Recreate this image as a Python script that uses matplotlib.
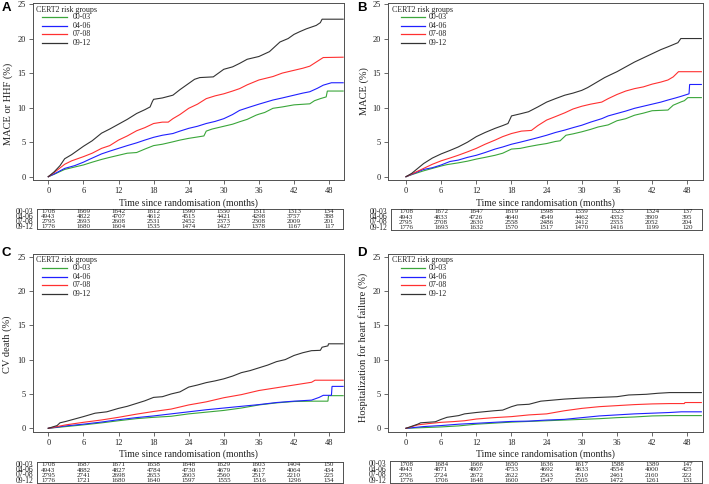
import matplotlib
matplotlib.use('Agg')
import matplotlib.pyplot as plt
from matplotlib.lines import Line2D
from matplotlib.transforms import blended_transform_factory

plt.rcParams['font.family'] = ['Liberation Serif', 'DejaVu Serif']

W, H = 709, 484

# ---------------- data ----------------
groups = ['00-03', '04-06', '07-08', '09-12']
colors = ['#3aa63a', '#2020ff', '#ff3030', '#333333']
month_ticks = [0, 6, 12, 18, 24, 30, 36, 42, 48]
y_ticks = [0, 5, 10, 15, 20, 25]
legend_title = 'CERT2 risk groups'
x_label = 'Time since randomisation (months)'

# Panel A: MACE or HHF
A_t_0003 = [0, 1, 2.8, 4.5, 6, 7.5, 9.1, 10.5, 12, 13.5, 15.1, 16.5, 18, 19.5, 21.3, 22.5, 24, 25.5, 26.6, 27.0, 28, 30, 31.5, 32.7, 34, 35.5, 36, 37, 38.4, 40, 42, 44.7, 45.5, 46.5, 47.5, 47.7, 50.4]
A_y_0003 = [0, 0.35, 1.05, 1.4, 1.7, 2.1, 2.5, 2.8, 3.1, 3.4, 3.5, 4.0, 4.5, 4.7, 5.05, 5.3, 5.55, 5.75, 5.9, 6.6, 6.9, 7.3, 7.6, 7.95, 8.3, 8.9, 9.05, 9.3, 9.9, 10.1, 10.4, 10.55, 11.0, 11.3, 11.55, 12.4, 12.4]
A_t_0406 = [0, 1, 2.8, 4.5, 6, 7, 9.1, 10.5, 12, 13.5, 15.1, 16.5, 18, 19.5, 21.3, 22.5, 24, 25.5, 27, 28.5, 30, 31.5, 32.7, 34.5, 36, 38.4, 40, 42, 43.5, 44.7, 46, 47, 48.4, 50.4]
A_y_0406 = [0, 0.4, 1.2, 1.6, 2.1, 2.5, 3.3, 3.7, 4.1, 4.5, 4.9, 5.3, 5.7, 6.0, 6.25, 6.6, 7.0, 7.3, 7.7, 8.0, 8.4, 9.0, 9.6, 10.1, 10.5, 11.1, 11.4, 11.8, 12.1, 12.3, 12.8, 13.25, 13.6, 13.6]
A_t_0708 = [0, 1, 2.8, 4, 6, 7.5, 9.1, 10.5, 12, 13.5, 15.1, 16.5, 18, 19.5, 20.5, 21.3, 22.5, 24, 25.5, 27, 28.5, 30, 31.5, 32.7, 34, 36, 38.4, 40, 42, 43.5, 44.7, 45.8, 47, 50.4]
A_y_0708 = [0, 0.6, 1.8, 2.3, 2.9, 3.4, 4.1, 4.5, 5.3, 5.9, 6.65, 7.1, 7.7, 7.9, 7.9, 8.4, 9.0, 9.9, 10.5, 11.3, 11.7, 12.0, 12.4, 12.75, 13.3, 14.0, 14.5, 15.0, 15.4, 15.7, 16.0, 16.6, 17.25, 17.3]
A_t_0912 = [0, 1, 2, 2.8, 4, 6, 7.5, 9.1, 10.5, 12, 13.5, 15.1, 16.5, 17.4, 17.8, 18, 19.5, 21.3, 22.5, 24, 25, 25.9, 28.2, 30, 31.5, 32.7, 34, 36, 37.8, 39.6, 41, 42, 43, 44.1, 45.8, 46.5, 46.8, 50.4]
A_y_0912 = [0, 0.7, 1.6, 2.6, 3.2, 4.4, 5.2, 6.3, 6.9, 7.6, 8.3, 9.15, 9.7, 10.1, 10.9, 11.2, 11.4, 11.8, 12.6, 13.5, 14.1, 14.35, 14.45, 15.55, 15.9, 16.4, 17.0, 17.4, 18.1, 19.5, 20.0, 20.6, 21.0, 21.4, 21.9, 22.3, 22.8, 22.8]

# Panel B: MACE
B_t_0003 = [0, 1, 3, 4.5, 6, 7, 8.9, 10.5, 12, 13.5, 15.2, 16.5, 18, 19.5, 20.9, 22.5, 24, 25.5, 26.3, 27.3, 28.5, 30, 31.5, 32.8, 34.5, 36, 37.5, 39, 40.5, 42, 44.7, 45.6, 47, 47.5, 48.1, 50.4]
B_y_0003 = [0, 0.3, 0.85, 1.2, 1.55, 1.75, 2.0, 2.25, 2.55, 2.8, 3.1, 3.4, 4.0, 4.1, 4.35, 4.6, 4.8, 5.1, 5.2, 6.0, 6.2, 6.5, 6.85, 7.2, 7.5, 8.1, 8.4, 8.9, 9.2, 9.55, 9.65, 10.35, 10.85, 11.0, 11.45, 11.45]
B_t_0406 = [0, 1, 3, 4.5, 6, 7.5, 8.9, 10.5, 12, 13.5, 15.2, 16.5, 18, 19.5, 20.9, 22.5, 24, 25.5, 27.1, 28.5, 30, 31.5, 33.4, 34.5, 36, 37.5, 39, 40.5, 42, 43.5, 44.7, 46, 47, 48.3, 48.4, 50.4]
B_y_0406 = [0, 0.35, 1.05, 1.3, 1.7, 2.2, 2.4, 2.8, 3.1, 3.5, 4.0, 4.3, 4.7, 5.0, 5.3, 5.65, 6.0, 6.4, 6.75, 7.1, 7.45, 7.9, 8.4, 8.8, 9.15, 9.5, 9.9, 10.2, 10.5, 10.8, 11.1, 11.4, 11.65, 12.0, 13.35, 13.35]
B_t_0708 = [0, 1, 3, 4.5, 6, 7.5, 8.9, 10.5, 12, 13.5, 15.2, 16.5, 18, 19.7, 21.4, 22.5, 24, 25.5, 27.1, 28.5, 30, 31.5, 33.4, 34.5, 36, 37.5, 39, 40.5, 42, 43.5, 44.7, 45.6, 46.5, 50.4]
B_y_0708 = [0, 0.4, 1.2, 1.8, 2.3, 2.7, 3.1, 3.6, 4.1, 4.7, 5.3, 5.8, 6.25, 6.6, 6.7, 7.4, 8.2, 8.7, 9.25, 9.8, 10.2, 10.5, 10.8, 11.3, 11.9, 12.4, 12.75, 13.0, 13.4, 13.7, 14.0, 14.45, 15.2, 15.2]
B_t_0912 = [0, 1, 2, 3, 4.5, 6, 7.5, 8.9, 10.5, 12, 13.5, 15.2, 16.5, 17.4, 17.9, 18, 19.5, 20.9, 22.5, 24, 25.5, 27.1, 28.5, 30, 31, 32.2, 33.9, 35, 36, 37.5, 39, 40.5, 42, 43.5, 44.7, 46.4, 46.9, 50.4]
B_y_0912 = [0, 0.5, 1.2, 1.9, 2.7, 3.3, 3.8, 4.3, 5.0, 5.8, 6.4, 7.0, 7.4, 7.7, 8.6, 8.8, 9.1, 9.4, 10.1, 10.8, 11.3, 11.8, 12.1, 12.5, 12.9, 13.5, 14.35, 14.8, 15.2, 15.9, 16.6, 17.2, 17.8, 18.4, 18.8, 19.4, 20.0, 20.0]

# Panel C: CV death
C_t_0003 = [0, 3, 6, 9, 12, 15, 18, 21, 24, 27, 30, 33, 36, 39, 42, 45, 47.8, 47.9, 50.4]
C_y_0003 = [0, 0.25, 0.5, 0.78, 1.1, 1.4, 1.6, 1.75, 2.1, 2.35, 2.6, 2.95, 3.4, 3.7, 3.9, 3.95, 3.95, 4.75, 4.75]
C_t_0406 = [0, 3, 6, 9, 12, 15, 18, 21, 24, 27, 30, 33, 36, 39, 42, 45, 46.3, 47, 48.4, 48.5, 50.4]
C_y_0406 = [0, 0.35, 0.6, 0.9, 1.25, 1.55, 1.8, 2.1, 2.4, 2.7, 2.95, 3.2, 3.45, 3.75, 3.95, 4.1, 4.5, 4.8, 4.8, 6.1, 6.1]
C_t_0708 = [0, 1.5, 3, 6, 9, 12, 15, 18, 21, 24, 27, 30, 33, 34.5, 36, 39, 42, 45, 45.6, 50.4]
C_y_0708 = [0, 0.25, 0.5, 0.87, 1.2, 1.6, 2.05, 2.45, 2.8, 3.4, 3.85, 4.45, 4.9, 5.2, 5.5, 5.9, 6.3, 6.7, 7.0, 7.0]
C_t_0912 = [0, 1.5, 2, 3, 4.5, 6, 8, 10, 12, 13.5, 15, 16.5, 18, 19.5, 21, 22.5, 24, 25.5, 27, 28.5, 30, 31.5, 33, 34.5, 36, 37.5, 39, 40.5, 42, 43.5, 45, 46.5, 46.8, 47.8, 47.9, 50.4]
C_y_0912 = [0, 0.4, 0.8, 1.0, 1.35, 1.7, 2.2, 2.4, 2.9, 3.2, 3.6, 4.0, 4.5, 4.6, 5.0, 5.3, 6.0, 6.3, 6.65, 6.9, 7.2, 7.6, 8.1, 8.4, 8.8, 9.2, 9.7, 10.0, 10.6, 11.0, 11.3, 11.35, 11.8, 12.0, 12.3, 12.3]

# Panel D: Hospitalization for heart failure
D_t_0003 = [0, 3, 6, 9, 12, 15, 18, 21, 24, 27, 30, 33, 36, 39, 42, 45, 50.4]
D_y_0003 = [0, 0.1, 0.2, 0.35, 0.6, 0.75, 0.9, 1.0, 1.1, 1.2, 1.3, 1.4, 1.55, 1.65, 1.8, 1.85, 1.85]
D_t_0406 = [0, 3, 6, 9, 12, 15, 18, 21, 24, 27, 30, 33, 36, 39, 42, 45, 47, 50.4]
D_y_0406 = [0, 0.25, 0.4, 0.6, 0.73, 0.87, 1.0, 1.05, 1.2, 1.3, 1.55, 1.8, 1.95, 2.1, 2.2, 2.3, 2.4, 2.4]
D_t_0708 = [0, 2, 4, 6, 8, 10, 12, 15, 18, 21, 24, 27, 30, 33, 36, 39, 42, 45, 47.5, 47.6, 50.4]
D_y_0708 = [0, 0.5, 0.7, 0.87, 0.97, 1.1, 1.35, 1.55, 1.7, 1.95, 2.1, 2.55, 2.9, 3.15, 3.3, 3.45, 3.55, 3.6, 3.6, 3.75, 3.75]
D_t_0912 = [0, 1, 2, 2.5, 5, 6, 7, 9, 10, 12, 15, 16.5, 18, 19, 21, 23, 25, 27, 30, 33, 36, 38, 41, 43, 45, 50.4]
D_y_0912 = [0, 0.3, 0.6, 0.8, 0.95, 1.3, 1.6, 1.85, 2.1, 2.3, 2.55, 2.65, 3.15, 3.4, 3.5, 3.95, 4.1, 4.25, 4.4, 4.5, 4.6, 4.85, 4.95, 5.1, 5.2, 5.2]

# Numbers at risk
A_risk_0003 = [1708, 1669, 1642, 1612, 1590, 1550, 1511, 1313, 134]
A_risk_0406 = [4943, 4822, 4707, 4612, 4515, 4421, 4298, 3757, 388]
A_risk_0708 = [2795, 2693, 2608, 2531, 2452, 2373, 2308, 2009, 201]
A_risk_0912 = [1776, 1680, 1604, 1535, 1474, 1427, 1378, 1167, 117]

B_risk_0003 = [1708, 1672, 1647, 1619, 1598, 1559, 1523, 1324, 137]
B_risk_0406 = [4943, 4833, 4726, 4640, 4549, 4462, 4352, 3809, 395]
B_risk_0708 = [2795, 2708, 2630, 2558, 2486, 2412, 2353, 2052, 204]
B_risk_0912 = [1776, 1693, 1632, 1570, 1517, 1470, 1416, 1199, 120]

C_risk_0003 = [1708, 1687, 1671, 1658, 1648, 1629, 1603, 1404, 150]
C_risk_0406 = [4943, 4882, 4827, 4784, 4730, 4679, 4617, 4064, 434]
C_risk_0708 = [2795, 2741, 2698, 2653, 2603, 2560, 2517, 2210, 225]
C_risk_0912 = [1776, 1721, 1680, 1640, 1597, 1555, 1516, 1296, 134]

D_risk_0003 = [1708, 1684, 1666, 1650, 1636, 1617, 1588, 1389, 147]
D_risk_0406 = [4943, 4871, 4807, 4753, 4692, 4633, 4554, 4000, 425]
D_risk_0708 = [2795, 2724, 2672, 2622, 2563, 2510, 2461, 2160, 222]
D_risk_0912 = [1776, 1706, 1648, 1600, 1547, 1505, 1472, 1261, 131]

# ---------------- layout helpers ----------------
def rect(l, t, r, b):
    return [l / W, 1 - b / H, (r - l) / W, (b - t) / H]

fig = plt.figure(figsize=(W / 100, H / 100), dpi=100)
fig.patch.set_facecolor('white')

SPINE = '#505050'
TXT = '#222222'

panels = [
    dict(letter='A', ylabel='MACE or HHF (%)',
         ax=(33, 3, 344, 180), x0px=48.3, xs=5.85, y0px=176.7, ys=6.908,
         table=(37, 209, 343, 229), ylab_x=8, ylab_y=103.5, xlab_y=202.7,
         leg=(2.5, 9, 34, 39.5), letter_xy=(2, 2),
         curves=[(A_t_0003, A_y_0003), (A_t_0406, A_y_0406), (A_t_0708, A_y_0708), (A_t_0912, A_y_0912)],
         risk=[A_risk_0003, A_risk_0406, A_risk_0708, A_risk_0912]),
    dict(letter='B', ylabel='MACE (%)',
         ax=(388, 3, 703, 180), x0px=406, xs=5.86, y0px=176.7, ys=6.908,
         table=(391, 209, 702, 230), ylab_x=364, ylab_y=91, xlab_y=202.7,
         leg=(4, 13, 37.5, 41), letter_xy=(357, 2),
         curves=[(B_t_0003, B_y_0003), (B_t_0406, B_y_0406), (B_t_0708, B_y_0708), (B_t_0912, B_y_0912)],
         risk=[B_risk_0003, B_risk_0406, B_risk_0708, B_risk_0912]),
    dict(letter='C', ylabel='CV death (%)',
         ax=(33, 254, 344, 432), x0px=48.3, xs=5.85, y0px=428.3, ys=6.87,
         table=(37, 462, 343, 483), ylab_x=7.5, ylab_y=344, xlab_y=454,
         leg=(2.5, 9, 34, 39.5), letter_xy=(2, 247),
         curves=[(C_t_0003, C_y_0003), (C_t_0406, C_y_0406), (C_t_0708, C_y_0708), (C_t_0912, C_y_0912)],
         risk=[C_risk_0003, C_risk_0406, C_risk_0708, C_risk_0912]),
    dict(letter='D', ylabel='Hospitalization for heart failure (%)',
         ax=(388, 254, 703, 432), x0px=406, xs=5.86, y0px=428.3, ys=6.87,
         table=(390, 461, 702, 483), ylab_x=363, ylab_y=347, xlab_y=454,
         leg=(4, 13, 37.5, 41), letter_xy=(357, 247),
         curves=[(D_t_0003, D_y_0003), (D_t_0406, D_y_0406), (D_t_0708, D_y_0708), (D_t_0912, D_y_0912)],
         risk=[D_risk_0003, D_risk_0406, D_risk_0708, D_risk_0912]),
]

for p in panels:
    l, t, r, b = p['ax']
    ax = fig.add_axes(rect(l, t, r, b))
    x_lo = (l - p['x0px']) / p['xs']
    x_hi = (r - p['x0px']) / p['xs']
    y_lo = -(b - p['y0px']) / p['ys']
    y_hi = (p['y0px'] - t) / p['ys']
    ax.set_xlim(x_lo, x_hi)
    ax.set_ylim(y_lo, y_hi)

    for (tt, yy), c in zip(p['curves'], colors):
        ax.plot(tt, yy, color=c, lw=0.8, solid_joinstyle='miter')

    ax.set_xticks(month_ticks)
    ax.set_yticks(y_ticks)
    ax.tick_params(direction='out', length=3, width=0.6, labelsize=6,
                   pad=2, color=SPINE, labelcolor=TXT)
    for s in ax.spines.values():
        s.set_color(SPINE)
        s.set_linewidth(0.7)

    axw, axh = r - l, b - t
    ax.set_xlabel(x_label, fontsize=7, color=TXT)
    ax.xaxis.set_label_coords(0.5, -(p['xlab_y'] - b) / axh)
    ax.xaxis.label.set_va('center')
    ax.set_ylabel(p['ylabel'], fontsize=7.5, color=TXT)
    ax.yaxis.set_label_coords((p['ylab_x'] - l) / axw, (b - p['ylab_y']) / axh)
    ax.yaxis.label.set_va('center')

    # legend (manual, pixel-placed)
    tx, hx0, hx1, lx = p['leg']
    rows_y = [6.5, 14.2, 22.8, 31.4, 40.0]
    fig.text((l + tx) / W, 1 - (t + rows_y[0]) / H, legend_title, fontsize=5.7,
             color=TXT, ha='left', va='center')
    for i, (g, c) in enumerate(zip(groups, colors)):
        yy = 1 - (t + rows_y[i + 1]) / H
        fig.add_artist(Line2D([(l + hx0) / W, (l + hx1) / W], [yy, yy],
                              transform=fig.transFigure, color=c, lw=0.9))
        fig.text((l + lx) / W, yy, g, fontsize=5.7, color=TXT, ha='left', va='center')

    # panel letter
    fig.text(p['letter_xy'][0] / W, 1 - p['letter_xy'][1] / H, p['letter'],
             fontsize=9.5, fontweight='bold', family='Liberation Sans',
             ha='left', va='top', color='black')

    # number-at-risk table
    tl, tt_, tr, tb = p['table']
    axt = fig.add_axes(rect(tl, tt_, tr, tb))
    slope = (x_hi - x_lo) / (r - l)
    axt.set_xlim(x_lo + (tl - l) * slope, x_lo + (tr - l) * slope)
    axt.set_ylim(4, 0)
    axt.set_xticks([])
    axt.set_yticks([])
    for s in axt.spines.values():
        s.set_color(SPINE)
        s.set_linewidth(0.7)
    lab_tr = blended_transform_factory(fig.transFigure, axt.transData)
    for i, (g, vals) in enumerate(zip(groups, p['risk'])):
        for m, v in zip(month_ticks, vals):
            axt.text(m, i + 0.55, str(v), ha='center', va='center',
                     fontsize=5, color=TXT)
        axt.text((tl - 3.5) / W, i + 0.55, g, transform=lab_tr, ha='right',
                 va='center', fontsize=5.5, color=TXT)

fig.savefig('out.png', dpi=100, facecolor='white')
